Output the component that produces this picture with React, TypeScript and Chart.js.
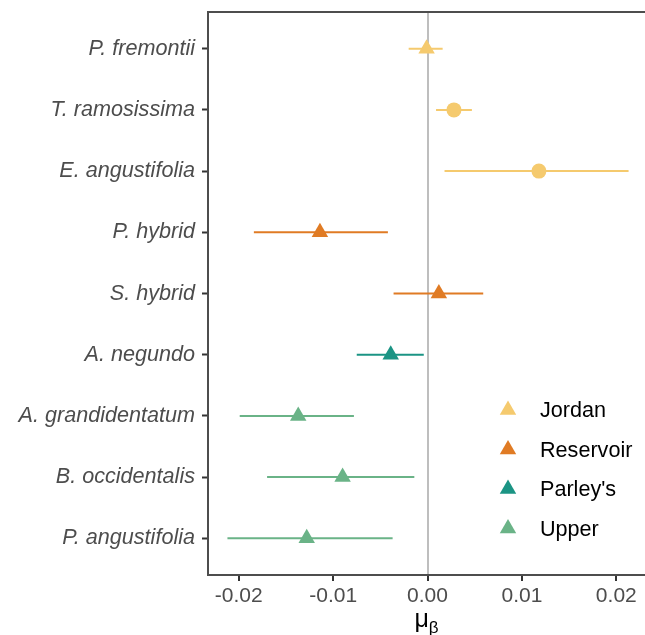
import React, { useEffect, useRef } from 'react';
import { Chart, registerables } from 'chart.js';

Chart.register(...registerables);

const categories = [
  'P. fremontii',
  'T. ramosissima',
  'E. angustifolia',
  'P. hybrid',
  'S. hybrid',
  'A. negundo',
  'A. grandidentatum',
  'B. occidentalis',
  'P. angustifolia',
];
const categorySites = ['Jordan', 'Jordan', 'Jordan', 'Reservoir', 'Reservoir', "Parley's", 'Upper', 'Upper', 'Upper'];
const estimates = [-0.0001, 0.0028, 0.0118, -0.0114, 0.0012, -0.0039, -0.0137, -0.009, -0.0128];
const lowerCI = [-0.002, 0.0009, 0.0018, -0.0184, -0.0036, -0.0075, -0.0199, -0.017, -0.0212];
const upperCI = [0.0016, 0.0047, 0.0213, -0.0042, 0.0059, -0.0004, -0.0078, -0.0014, -0.0037];
const markerShapes = ['triangle', 'circle', 'circle', 'triangle', 'triangle', 'triangle', 'triangle', 'triangle', 'triangle'];

const legendSites = ['Jordan', 'Reservoir', "Parley's", 'Upper'];
const siteColors = ['#F5CA6E', '#E07B24', '#1B9484', '#6AB387'];

const xTicks = [-0.02, -0.01, 0, 0.01, 0.02];
const xTickLabels = ['-0.02', '-0.01', '0.00', '0.01', '0.02'];
const xMin = -0.02326;
const xMax = 0.02304;

const FONT = '"Liberation Sans", Arial, sans-serif';
const GREY_TEXT = '#4D4D4D';
const BORDER = '#4D4D4D';

const colorOf = (site: string) => siteColors[legendSites.indexOf(site)];

const decorPlugin = {
  id: 'decor',
  afterDraw(chart: any) {
    const { ctx, chartArea } = chart;
    ctx.save();
    // top border of panel
    ctx.strokeStyle = BORDER;
    ctx.lineWidth = 2;
    ctx.beginPath();
    ctx.moveTo(chartArea.left - 1, chartArea.top);
    ctx.lineTo(chartArea.right, chartArea.top);
    ctx.stroke();

    // legend
    legendSites.forEach((site, k) => {
      const cy = 410 + k * 39.5;
      const cx = 508;
      const r = 9.5;
      ctx.fillStyle = siteColors[k];
      ctx.beginPath();
      let rad = 0;
      ctx.moveTo(cx + Math.sin(rad) * r, cy - Math.cos(rad) * r);
      rad += (2 * Math.PI) / 3;
      ctx.lineTo(cx + Math.sin(rad) * r, cy - Math.cos(rad) * r);
      rad += (2 * Math.PI) / 3;
      ctx.lineTo(cx + Math.sin(rad) * r, cy - Math.cos(rad) * r);
      ctx.closePath();
      ctx.fill();
      ctx.fillStyle = '#000000';
      ctx.font = `21.6px ${FONT}`;
      ctx.textAlign = 'left';
      ctx.textBaseline = 'middle';
      ctx.fillText(site, 540, cy + 1.5);
    });

    // axis title mu_beta
    const cxT = (chartArea.left + chartArea.right) / 2;
    ctx.fillStyle = '#000000';
    ctx.textBaseline = 'alphabetic';
    ctx.font = `25px ${FONT}`;
    const muW = ctx.measureText('μ').width;
    ctx.font = `17px ${FONT}`;
    const beW = ctx.measureText('β').width;
    const startX = cxT - (muW + beW) / 2;
    ctx.font = `25px ${FONT}`;
    ctx.textAlign = 'left';
    ctx.fillText('μ', startX, 627);
    ctx.font = `17px ${FONT}`;
    ctx.fillText('β', startX + muW, 633);
    ctx.restore();
  },
};

export default function App() {
  const ref = useRef<HTMLCanvasElement | null>(null);

  useEffect(() => {
    document.body.style.margin = '0';
    if (!ref.current) return;

    const pointDatasets = legendSites.map((site, k) => {
      const idx = categories.map((_, i) => i).filter((i) => categorySites[i] === site);
      return {
        type: 'scatter' as const,
        label: site,
        data: idx.map((i) => ({ x: estimates[i], y: i })),
        pointStyle: idx.map((i) => markerShapes[i]),
        pointRadius: idx.map((i) => (markerShapes[i] === 'circle' ? 7.5 : 9.5)),
        backgroundColor: siteColors[k],
        borderColor: siteColors[k],
        borderWidth: 0,
        order: 0,
      };
    });

    const whiskerDatasets = categories.map((cat, i) => ({
      type: 'scatter' as const,
      label: cat + ' CI',
      data: [
        { x: lowerCI[i], y: i },
        { x: upperCI[i], y: i },
      ],
      showLine: true,
      borderColor: colorOf(categorySites[i]),
      borderWidth: 2,
      pointRadius: 0,
      order: 1,
    }));

    const chart = new Chart(ref.current, {
      type: 'scatter',
      data: { datasets: [...pointDatasets, ...whiskerDatasets] as any },
      options: {
        animation: false,
        responsive: false,
        events: [],
        layout: { autoPadding: false, padding: { top: 12, right: 0, left: 0, bottom: 0 } },
        plugins: { legend: { display: false }, tooltip: { enabled: false } },
        scales: {
          x: {
            type: 'linear',
            min: xMin,
            max: xMax,
            afterBuildTicks: (scale: any) => {
              scale.ticks = xTicks.map((v) => ({ value: v }));
            },
            afterFit: (scale: any) => {
              scale.height = 60;
              scale.paddingLeft = 0;
              scale.paddingRight = 0;
            },
            ticks: {
              font: { family: FONT, size: 21 },
              color: GREY_TEXT,
              padding: 3,
              maxRotation: 0,
              autoSkip: false,
              callback: (_v: any, i: number) => xTickLabels[i],
            },
            grid: {
              color: (c: any) => (c.tick && c.tick.value === 0 ? '#BEBEBE' : 'rgba(0,0,0,0)'),
              lineWidth: 2,
              tickColor: '#333333',
              tickLength: 6,
              tickWidth: 2,
            },
            border: { display: true, color: BORDER, width: 2 },
          },
          y: {
            type: 'linear',
            min: -0.6,
            max: categories.length - 1 + 0.6,
            reverse: true,
            afterBuildTicks: (scale: any) => {
              scale.ticks = categories.map((_, i) => ({ value: i }));
            },
            afterFit: (scale: any) => {
              scale.width = 208;
              scale.paddingTop = 0;
              scale.paddingBottom = 0;
            },
            ticks: {
              font: { family: FONT, size: 21.6, style: 'italic' },
              color: GREY_TEXT,
              padding: 7,
              autoSkip: false,
              callback: (_v: any, i: number) => categories[i],
            },
            grid: {
              drawOnChartArea: false,
              drawTicks: true,
              tickColor: '#333333',
              tickLength: 6,
              tickWidth: 2,
            },
            border: { display: true, color: BORDER, width: 2 },
          },
        },
      },
      plugins: [decorPlugin],
    });

    return () => chart.destroy();
  }, []);

  return (
    <div style={{ width: 645, height: 635 }}>
      <canvas ref={ref} width={645} height={635} style={{ display: 'block' }} />
    </div>
  );
}
